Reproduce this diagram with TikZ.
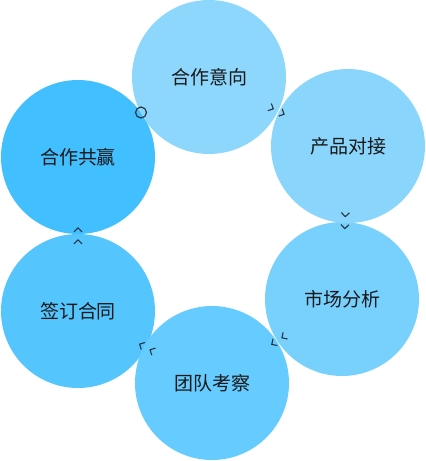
\documentclass[tikz,border=0pt]{standalone}
\usepackage{fontspec}
\newfontfamily\cjk{Noto Sans CJK SC}
\usetikzlibrary{decorations.markings}
\definecolor{cA}{HTML}{8DD7FC}
\definecolor{cB}{HTML}{8AD5FC}
\definecolor{cC}{HTML}{78D0FD}
\definecolor{cD}{HTML}{66CBFE}
\definecolor{cE}{HTML}{55C5FE}
\definecolor{cF}{HTML}{42BFFE}
\definecolor{ink}{HTML}{263340}
\begin{document}
\begin{tikzpicture}[x=1pt,y=-1pt,
  stage/.style={circle, fill=#1, minimum size=154pt, inner sep=0pt,
    font=\cjk\fontsize{19}{21}\selectfont, text=black!90},
  chevline/.style={draw=ink, line width=1.1pt, line join=miter},
  flow/.style={decoration={markings,
      mark=at position 0.462 with {\draw[chevline] (-4,4) -- (0,0) -- (-4,-4);},
      mark=at position 0.540 with {\draw[chevline] (-4,4) -- (0,0) -- (-4,-4);}},
      decorate}]
\useasboundingbox (0,0) rectangle (426,461);
\node[stage=cF] (f) at (78,157) {合作共赢};
\node[stage=cE] (e) at (78,311) {签订合同};
\node[stage=cD] (d) at (212,383) {团队考察};
\node[stage=cC] (c) at (342,299) {市场分析};
\node[stage=cB] (b) at (348,146) {产品对接};
\node[stage=cA] (a) at (209,77) {合作意向};
\path[flow] (a.center) -- (b.center);
\path[flow] (b.center) -- (c.center);
\path[flow] (c.center) -- (d.center);
\path[flow] (d.center) -- (e.center);
\path[flow] (e.center) -- (f.center);
\node[circle, draw=ink, line width=1.2pt, minimum size=11pt, inner sep=0pt] (m) at (141,112.5) {};
\end{tikzpicture}
\end{document}
